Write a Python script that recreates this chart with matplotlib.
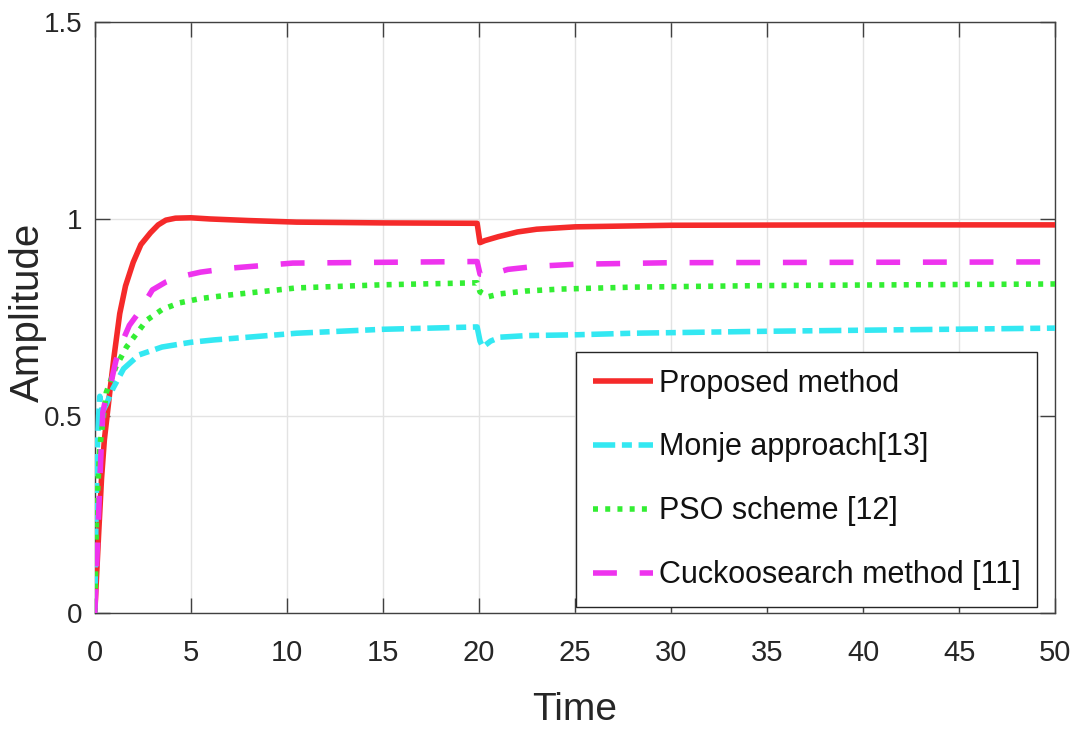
"""
Step response comparison (Amplitude vs Time), MATLAB-like styling.
"""
import matplotlib
matplotlib.use('Agg')
import matplotlib.pyplot as plt

# --- data ---
t_red = [0, 0.2, 0.35, 0.5, 0.78, 1.0, 1.3, 1.6, 2.0, 2.4, 2.9, 3.3, 3.7, 4.2, 5, 6, 8, 10.5,
         15, 19.9, 20.05, 20.3, 21, 22, 23, 25, 30, 40, 50]
v_red = [0, 0.2, 0.34, 0.44, 0.56, 0.65, 0.76, 0.83, 0.89, 0.935, 0.965, 0.985, 0.997, 1.002,
         1.003, 1.0, 0.996, 0.992, 0.99, 0.989, 0.94, 0.945, 0.955, 0.967, 0.974, 0.98, 0.984,
         0.985, 0.985]

t_cyan = [0, 0.05, 0.12, 0.2, 0.26, 0.33, 0.4, 0.6, 0.95, 1.5, 2.3, 3.5, 5, 6.2, 8, 10.5, 15,
          19.9, 20.05, 20.2, 20.6, 21.1, 22.5, 25, 28, 35, 50]
v_cyan = [0, 0.2, 0.4, 0.5, 0.55, 0.53, 0.51, 0.53, 0.57, 0.62, 0.655, 0.675, 0.687, 0.693,
          0.7, 0.71, 0.72, 0.726, 0.69, 0.675, 0.69, 0.70, 0.704, 0.706, 0.71, 0.715, 0.723]

t_grn = [0, 0.09, 0.26, 0.6, 1.1, 1.65, 2.7, 3.5, 4.4, 5.5, 7, 10.5, 15, 19.9, 20.05, 20.5,
         21.1, 22.4, 24.2, 28, 35, 50]
v_grn = [0, 0.25, 0.42, 0.56, 0.625, 0.675, 0.743, 0.77, 0.787, 0.798, 0.807, 0.825, 0.833,
         0.838, 0.815, 0.803, 0.81, 0.817, 0.822, 0.827, 0.831, 0.835]

t_mag = [0, 0.17, 0.3, 0.42, 0.6, 0.87, 1.1, 1.4, 1.8, 2.25, 3.0, 3.7, 4.4, 5.5, 7, 10.3, 15,
         19.9, 20.05, 20.5, 21.5, 23, 25, 30, 40, 50]
v_mag = [0, 0.21, 0.38, 0.51, 0.55, 0.59, 0.64, 0.685, 0.73, 0.76, 0.82, 0.84, 0.853, 0.865,
         0.875, 0.888, 0.89, 0.892, 0.86, 0.858, 0.872, 0.88, 0.885, 0.889, 0.89, 0.891]

labels = ["Proposed method", "Monje approach[13]", "PSO scheme [12]", "Cuckoosearch method [11]"]
x_ticks = [0, 5, 10, 15, 20, 25, 30, 35, 40, 45, 50]
y_ticks = [0, 0.5, 1, 1.5]
y_tick_labels = ["0", "0.5", "1", "1.5"]

FUENTE = 'Liberation Sans'
TXT = '#262626'

fig = plt.figure(figsize=(10.77, 7.32), dpi=100)
ax = fig.add_axes([0.088, 0.1626, 0.892, 0.8074])

lw = 4
ax.plot(t_red, v_red, color='#F52A2A', lw=lw, solid_capstyle='butt', label=labels[0], zorder=3)
ax.plot(t_cyan, v_cyan, color='#33E8F2', lw=lw, dashes=(4, 1.2, 1.8, 1.2),
        dash_capstyle='butt', label=labels[1], zorder=3)
ax.plot(t_grn, v_grn, color='#33EE33', lw=lw, dashes=(0.9, 1.3),
        dash_capstyle='butt', label=labels[2], zorder=3)
ax.plot(t_mag, v_mag, color='#EE33EE', lw=lw, dashes=(4.3, 4.1),
        dash_capstyle='butt', label=labels[3], zorder=3)

ax.set_xlim(0, 50)
ax.set_ylim(0, 1.5)
ax.set_xticks(x_ticks)
ax.set_yticks(y_ticks)
ax.set_yticklabels(y_tick_labels)

ax.grid(True, color='#E3E3E3', lw=1, zorder=0)
for s in ax.spines.values():
    s.set_color('#404040')
    s.set_linewidth(1)

ax.tick_params(direction='in', length=11, width=1, color='#404040',
               top=True, right=True, labelsize=21, labelcolor=TXT)
ax.tick_params(axis='x', pad=19)
ax.tick_params(axis='y', pad=9, labelsize=20)
for lab in ax.get_xticklabels() + ax.get_yticklabels():
    lab.set_family(FUENTE)

ax.set_xlabel("Time", fontsize=28, family=FUENTE, color=TXT)
ax.xaxis.set_label_coords(0.5, -0.133)
ax.set_ylabel("Amplitude", fontsize=29, family=FUENTE, color=TXT)
ax.yaxis.set_label_coords(-0.050, 0.508)

leg = ax.legend(loc='lower right', bbox_to_anchor=(0.981, 0.010), borderaxespad=0,
                prop={'family': FUENTE, 'size': 22}, handlelength=1.96, handletextpad=0.2,
                labelspacing=1.11, borderpad=0.55, fancybox=False, framealpha=1,
                edgecolor='#262626')
leg.get_frame().set_linewidth(1)
for txt in leg.get_texts():
    txt.set_color('#111111')

fig.savefig('out.png', dpi=100)
